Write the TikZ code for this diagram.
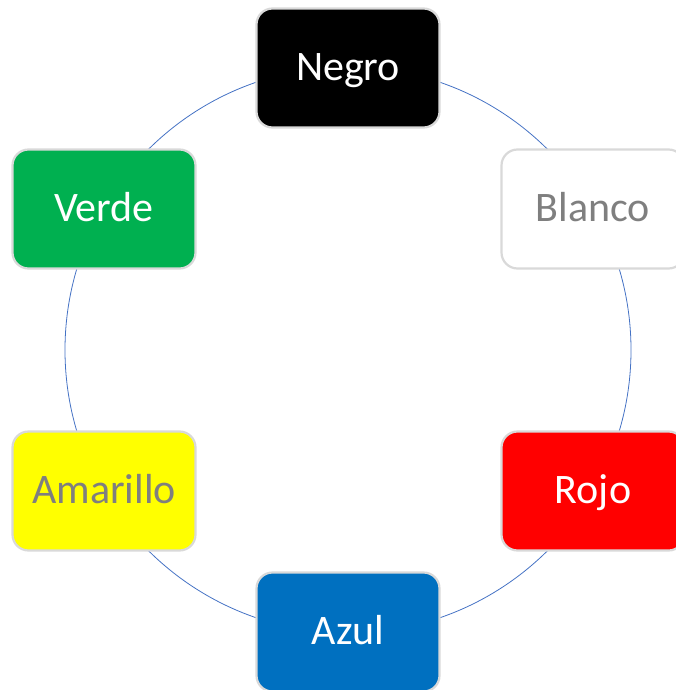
\documentclass[tikz,border=0pt]{standalone}
\usepackage{fontspec}
\setmainfont{Carlito}
\definecolor{ringblue}{HTML}{4472C4}
\definecolor{boxline}{HTML}{D9D9D9}
\definecolor{cgreen}{HTML}{00B050}
\definecolor{cred}{HTML}{FF0000}
\definecolor{cblue}{HTML}{0070C0}
\definecolor{cyellow}{HTML}{FFFF00}
\definecolor{cgray}{HTML}{7F7F7F}
\tikzset{
  colbox/.style={draw=boxline, line width=2.2pt, rounded corners=16pt,
    minimum width=183pt, minimum height=119pt, inner sep=0pt,
    text height=31pt, text depth=6pt,
    font=\fontsize{42}{50}\selectfont},
}
\begin{document}
\begin{tikzpicture}[x=1pt,y=-1pt]
\useasboundingbox (0,0) rectangle (676,690);
\draw[ringblue, line width=0.8pt] (348,350) circle (283);
\node[colbox, fill=black, text=white] (negro) at (348,68) {Negro};
\node[colbox, fill=white, text=cgray] (blanco) at (593,209) {Blanco};
\node[colbox, fill=cred, text=white] (rojo) at (593,491) {Rojo};
\node[colbox, fill=cblue, text=white] (azul) at (348,632) {Azul};
\node[colbox, fill=cyellow, text=cgray] (amarillo) at (104,491) {Amarillo};
\node[colbox, fill=cgreen, text=white] (verde) at (104,209) {Verde};
\end{tikzpicture}
\end{document}
